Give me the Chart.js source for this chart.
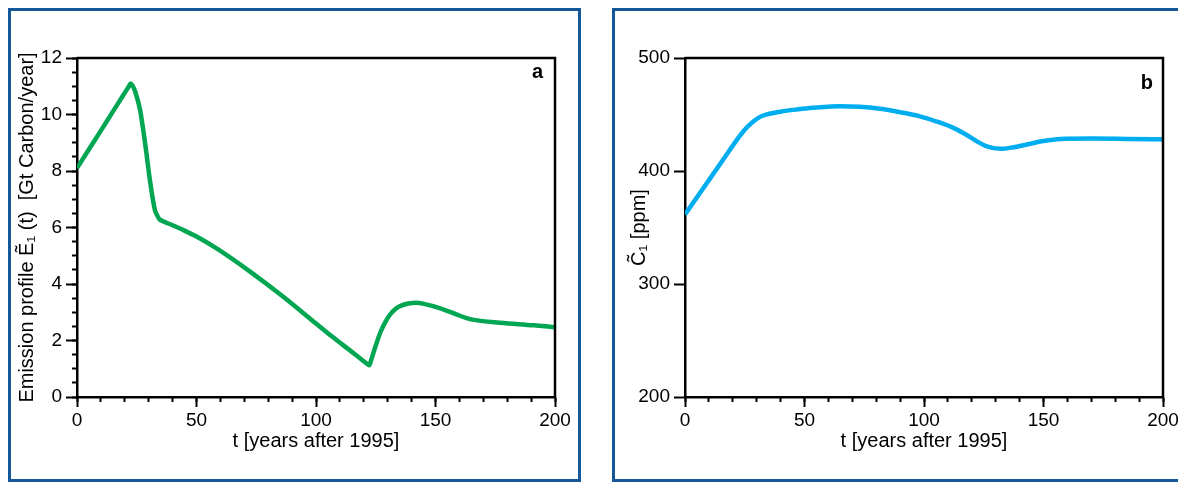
<!DOCTYPE html>
<html>
<head>
<meta charset="utf-8">
<script src="https://cdn.jsdelivr.net/npm/chart.js@4"></script>
<style>
  html, body { margin: 0; padding: 0; background: #fff; overflow: hidden; width: 1178px; height: 482px; }
  .panel { position: absolute; top: 8px; height: 474px; box-sizing: border-box; border: 3px solid #13599a; }
  #panelA { left: 8px; width: 573px; }
  #panelB { left: 612px; width: 700px; }
  canvas { position: absolute; top: 0; }
  #chartA { left: 0; width: 595px; height: 482px; }
  #chartB { left: 595px; width: 620px; height: 482px; }
</style>
</head>
<body>
<div class="panel" id="panelA"></div>
<div class="panel" id="panelB"></div>
<canvas id="chartA" width="595" height="482"></canvas>
<canvas id="chartB" width="620" height="482"></canvas>
<script>
// Panel a: emission profile E1(t), Gt carbon per year
const emissionYears = [0, 5, 10, 15, 20, 21.6, 22.5, 23.4, 24.4, 26.4, 28.5, 30.5, 32.6, 33.6, 34.4, 36, 40, 44.5, 50, 58.4, 72.4, 86.3, 100.3, 107, 114.2, 118, 121.6, 122.3, 122.9, 123.5, 125, 127, 129, 131, 133, 135, 138.6, 142, 146, 152, 158, 163, 166, 177, 191, 200];
const emission = [8.1, 8.77, 9.43, 10.1, 10.77, 10.98, 11.1, 11.0, 10.8, 10.16, 8.98, 7.68, 6.62, 6.42, 6.3, 6.22, 6.08, 5.91, 5.68, 5.26, 4.44, 3.55, 2.58, 2.12, 1.65, 1.4, 1.16, 1.12, 1.26, 1.42, 1.82, 2.3, 2.65, 2.92, 3.1, 3.21, 3.31, 3.34, 3.28, 3.14, 2.95, 2.79, 2.73, 2.63, 2.54, 2.47];

// Panel b: atmospheric CO2 concentration C1(t), ppm
const concYears = [0, 8, 16, 22.3, 25, 27.9, 31.4, 34.2, 40, 46.7, 55, 64.9, 73, 81.6, 90, 98.3, 105, 112.3, 117, 122, 126, 131.8, 137, 143, 150, 157, 170, 185, 200];
const concentration = [361.5, 385.8, 410.1, 429.3, 436.5, 442.6, 447.9, 450, 452.5, 454.4, 456.2, 457.3, 456.8, 455, 452, 448.4, 444, 438.2, 433, 426.4, 422, 419.6, 420.8, 423.4, 426.5, 428.3, 428.7, 428.4, 428];

// Axis ranges and tick spacing
const xRange = [0, 200];
const xMajorStep = 50;
const xMinorStep = 10;
const emissionRange = [0, 12];
const emissionMajorStep = 2;
const emissionMinorStep = 0.5;
const concRange = [200, 500];
const concMajorStep = 100;

const xTitle = 't [years after 1995]';
const emissionTitle = 'Emission profile \u1EBC\u2081 (t)  [Gt Carbon/year]';
const concTitle = 'C\u0303\u2081 [ppm]';

const FONT = '"Liberation Sans", Arial, Helvetica, sans-serif';
Chart.defaults.font.family = FONT;
Chart.defaults.color = '#000';

// Draws the top/right frame of the plot box and the panel letter
const panelFrame = {
  id: 'panelFrame',
  afterDatasetsDraw(chart, args, opts) {
    const { ctx, chartArea: a } = chart;
    ctx.save();
    ctx.strokeStyle = '#000';
    ctx.lineWidth = 2.5;
    ctx.beginPath();
    ctx.moveTo(a.left, a.top);
    ctx.lineTo(a.right, a.top);
    ctx.lineTo(a.right, a.bottom);
    ctx.stroke();
    ctx.font = 'bold 20px ' + FONT;
    ctx.fillStyle = '#000';
    ctx.textAlign = 'right';
    ctx.textBaseline = 'alphabetic';
    ctx.fillText(opts.letter, a.right - opts.dx, a.top + opts.dy);
    ctx.restore();
  }
};

function majorAxis(pos, range, step, size, title, titlePad, weight) {
  const horizontal = pos === 'bottom';
  return {
    type: 'linear',
    position: pos,
    weight: weight,
    min: range[0],
    max: range[1],
    ticks: { stepSize: step, padding: horizontal ? 2 : 4, font: { size: 19 }, color: '#000', autoSkip: false, maxRotation: 0 },
    grid: { display: true, drawOnChartArea: false, drawTicks: true, tickLength: horizontal ? 10 : 11, tickWidth: 2, tickColor: '#000' },
    border: { display: true, color: '#000', width: 2.5 },
    title: { display: true, text: title, font: { size: 20 }, color: '#000', padding: titlePad },
    afterFit: s => { if (horizontal) s.height = size; else s.width = size; }
  };
}

function minorAxis(pos, range, step) {
  const horizontal = pos === 'bottom';
  return {
    type: 'linear',
    position: pos,
    weight: 0,
    min: range[0],
    max: range[1],
    ticks: { stepSize: step, display: false },
    grid: { display: true, drawOnChartArea: false, drawTicks: true, tickLength: 5, tickWidth: 2, tickColor: '#000' },
    border: { display: false },
    afterFit: s => { if (horizontal) s.height = 0; else s.width = 0; }
  };
}

function lineChart(id, years, values, color, scales, padding, letter) {
  return new Chart(document.getElementById(id), {
    type: 'line',
    data: {
      datasets: [{
        data: years.map((t, i) => ({ x: t, y: values[i] })),
        borderColor: color,
        borderWidth: 4.5,
        pointRadius: 0,
        fill: false,
        cubicInterpolationMode: 'monotone',
        xAxisID: 'x',
        yAxisID: 'y'
      }]
    },
    options: {
      responsive: false,
      devicePixelRatio: 1,
      animation: false,
      events: [],
      layout: { padding: padding },
      scales: scales,
      plugins: {
        legend: { display: false },
        tooltip: { enabled: false },
        panelFrame: letter
      }
    },
    plugins: [panelFrame]
  });
}

lineChart('chartA', emissionYears, emission, '#00a651', {
  x: majorAxis('bottom', xRange, xMajorStep, 60, xTitle, { top: 0, bottom: 4 }, 1),
  xMinor: minorAxis('bottom', xRange, xMinorStep),
  y: majorAxis('left', emissionRange, emissionMajorStep, 77, emissionTitle, { top: 15, bottom: 0 }, 1),
  yMinor: minorAxis('left', emissionRange, emissionMinorStep)
}, { left: 0, top: 58, right: 40, bottom: 25 }, { letter: 'a', dx: 12, dy: 20 });

lineChart('chartB', concYears, concentration, '#00aeef', {
  x: majorAxis('bottom', xRange, xMajorStep, 60, xTitle, { top: 0, bottom: 4 }, 1),
  xMinor: minorAxis('bottom', xRange, xMinorStep),
  y: majorAxis('left', concRange, concMajorStep, 90, concTitle, { top: 32, bottom: 0 }, 1)
}, { left: 0, top: 58, right: 52, bottom: 25 }, { letter: 'b', dx: 10, dy: 31 });
</script>
</body>
</html>
